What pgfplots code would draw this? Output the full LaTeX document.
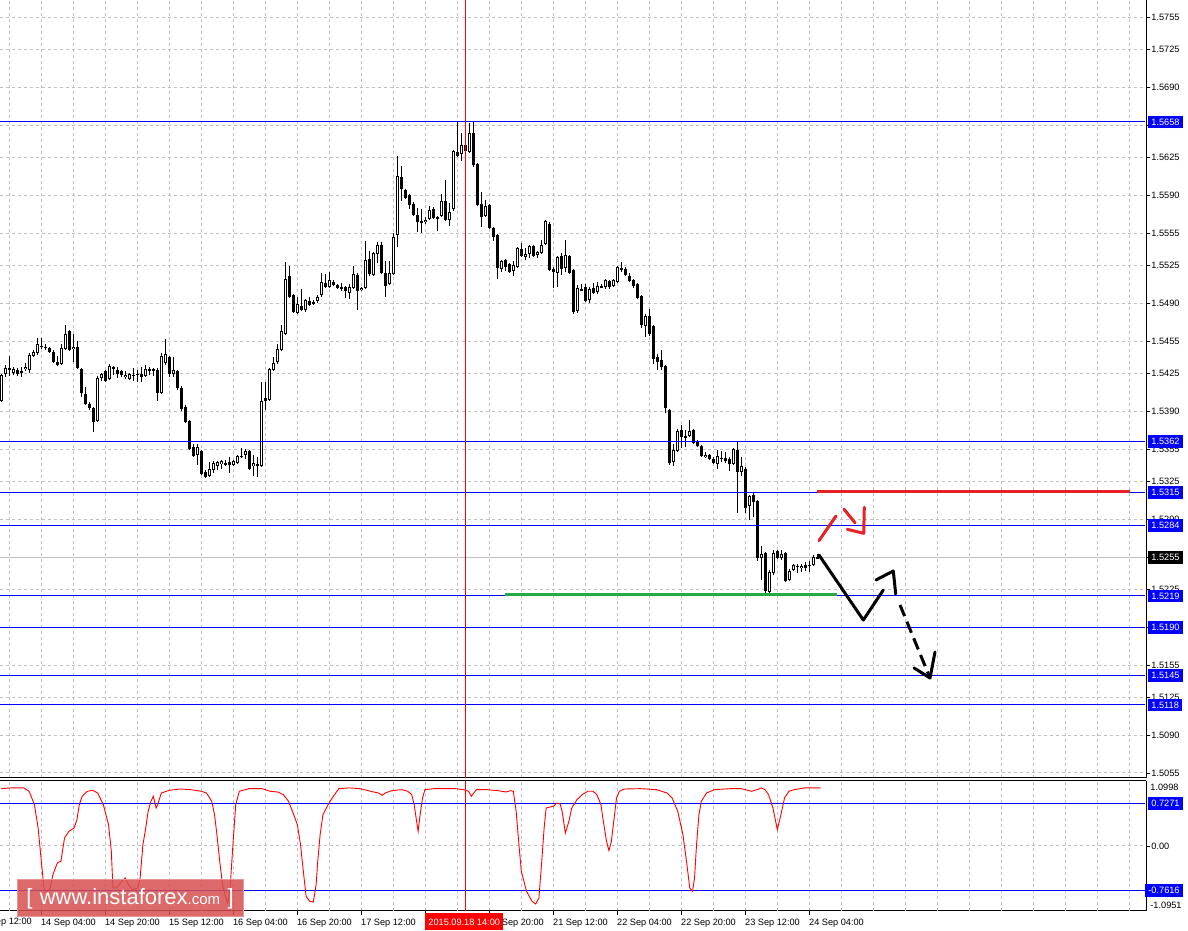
\documentclass[border=0pt]{standalone}
\usepackage{fontspec}
\setmainfont{Liberation Sans}
\usepackage{pgfplots}
\usepackage{pgfplotstable}
\usetikzlibrary{calc}
\pgfplotsset{compat=1.18}
\definecolor{lvl}{RGB}{0,0,255}
\definecolor{gridc}{RGB}{192,192,192}
\definecolor{bidc}{RGB}{192,192,192}
\definecolor{grn}{RGB}{32,170,72}
\definecolor{rdl}{RGB}{232,32,40}
\definecolor{wm}{RGB}{215,80,80}

\pgfplotstableread{
k o h l c
0 1.5400 1.5425 1.5399 1.5424
1 1.5425 1.5433 1.5422 1.5430
2 1.5430 1.5441 1.5423 1.5429
3 1.5426 1.5431 1.5424 1.5429
4 1.5428 1.5430 1.5423 1.5425
5 1.5427 1.5431 1.5422 1.5426
6 1.5429 1.5435 1.5427 1.5431
7 1.5428 1.5444 1.5426 1.5442
8 1.5441 1.5447 1.5440 1.5445
9 1.5444 1.5458 1.5442 1.5452
10 1.5451 1.5458 1.5448 1.5450
11 1.5450 1.5452 1.5447 1.5449
12 1.5449 1.5450 1.5444 1.5445
13 1.5445 1.5447 1.5435 1.5436
14 1.5436 1.5441 1.5432 1.5433
15 1.5434 1.5452 1.5433 1.5449
16 1.5448 1.5470 1.5447 1.5462
17 1.5464 1.5465 1.5446 1.5447
18 1.5448 1.5462 1.5436 1.5450
19 1.5450 1.5455 1.5429 1.5430
20 1.5429 1.5430 1.5403 1.5407
21 1.5406 1.5413 1.5396 1.5397
22 1.5397 1.5399 1.5391 1.5393
23 1.5393 1.5394 1.5371 1.5380
24 1.5381 1.5423 1.5380 1.5421
25 1.5421 1.5426 1.5418 1.5425
26 1.5427 1.5428 1.5417 1.5418
27 1.5420 1.5434 1.5419 1.5432
28 1.5431 1.5432 1.5424 1.5429
29 1.5428 1.5431 1.5421 1.5425
30 1.5427 1.5428 1.5422 1.5424
31 1.5422 1.5427 1.5420 1.5424
32 1.5420 1.5426 1.5419 1.5425
33 1.5424 1.5430 1.5418 1.5423
34 1.5425 1.5428 1.5417 1.5424
35 1.5425 1.5431 1.5417 1.5422
36 1.5423 1.5433 1.5422 1.5429
37 1.5428 1.5431 1.5424 1.5429
38 1.5429 1.5430 1.5423 1.5428
39 1.5428 1.5430 1.5400 1.5407
40 1.5407 1.5444 1.5406 1.5441
41 1.5435 1.5457 1.5433 1.5443
42 1.5440 1.5441 1.5422 1.5425
43 1.5425 1.5440 1.5422 1.5428
44 1.5427 1.5428 1.5410 1.5412
45 1.5412 1.5413 1.5390 1.5392
46 1.5394 1.5396 1.5379 1.5380
47 1.5381 1.5382 1.5354 1.5355
48 1.5357 1.5360 1.5348 1.5349
49 1.5350 1.5360 1.5340 1.5357
50 1.5353 1.5354 1.5331 1.5332
51 1.5334 1.5336 1.5328 1.5329
52 1.5330 1.5343 1.5329 1.5337
53 1.5336 1.5344 1.5333 1.5342
54 1.5339 1.5344 1.5336 1.5343
55 1.5341 1.5345 1.5337 1.5344
56 1.5342 1.5345 1.5339 1.5341
57 1.5343 1.5348 1.5333 1.5340
58 1.5340 1.5345 1.5339 1.5344
59 1.5342 1.5350 1.5341 1.5349
60 1.5349 1.5356 1.5347 1.5348
61 1.5350 1.5355 1.5346 1.5353
62 1.5353 1.5354 1.5336 1.5337
63 1.5339 1.5350 1.5330 1.5342
64 1.5341 1.5348 1.5329 1.5340
65 1.5339 1.5417 1.5338 1.5400
66 1.5402 1.5417 1.5391 1.5400
67 1.5401 1.5430 1.5400 1.5429
68 1.5428 1.5440 1.5427 1.5435
69 1.5436 1.5452 1.5434 1.5448
70 1.5447 1.5470 1.5446 1.5464
71 1.5462 1.5528 1.5461 1.5513
72 1.5515 1.5525 1.5495 1.5496
73 1.5498 1.5499 1.5481 1.5482
74 1.5481 1.5496 1.5480 1.5489
75 1.5488 1.5503 1.5483 1.5484
76 1.5484 1.5494 1.5482 1.5493
77 1.5492 1.5496 1.5488 1.5489
78 1.5491 1.5493 1.5489 1.5490
79 1.5492 1.5498 1.5490 1.5496
80 1.5498 1.5518 1.5496 1.5510
81 1.5509 1.5517 1.5504 1.5505
82 1.5505 1.5519 1.5504 1.5512
83 1.5510 1.5512 1.5506 1.5507
84 1.5507 1.5508 1.5503 1.5504
85 1.5505 1.5509 1.5502 1.5504
86 1.5505 1.5506 1.5495 1.5502
87 1.5500 1.5508 1.5494 1.5505
88 1.5504 1.5525 1.5503 1.5517
89 1.5516 1.5518 1.5484 1.5502
90 1.5502 1.5505 1.5501 1.5504
91 1.5504 1.5548 1.5503 1.5530
92 1.5531 1.5539 1.5515 1.5517
93 1.5516 1.5538 1.5515 1.5537
94 1.5536 1.5547 1.5527 1.5544
95 1.5544 1.5547 1.5517 1.5518
96 1.5518 1.5529 1.5496 1.5506
97 1.5508 1.5529 1.5507 1.5518
98 1.5517 1.5555 1.5516 1.5552
99 1.5553 1.5627 1.5542 1.5608
100 1.5607 1.5617 1.5585 1.5596
101 1.5595 1.5596 1.5587 1.5588
102 1.5590 1.5591 1.5577 1.5581
103 1.5582 1.5584 1.5571 1.5572
104 1.5572 1.5578 1.5556 1.5565
105 1.5566 1.5577 1.5555 1.5565
106 1.5565 1.5570 1.5564 1.5567
107 1.5568 1.5580 1.5567 1.5577
108 1.5577 1.5579 1.5568 1.5569
109 1.5570 1.5571 1.5557 1.5569
110 1.5571 1.5591 1.5570 1.5585
111 1.5585 1.5604 1.5566 1.5567
112 1.5567 1.5583 1.5562 1.5575
113 1.5577 1.5632 1.5576 1.5631
114 1.5630 1.5658 1.5626 1.5627
115 1.5628 1.5648 1.5622 1.5637
116 1.5637 1.5641 1.5629 1.5631
117 1.5630 1.5657 1.5629 1.5648
118 1.5648 1.5658 1.5616 1.5618
119 1.5619 1.5620 1.5580 1.5581
120 1.5582 1.5593 1.5561 1.5570
121 1.5571 1.5586 1.5570 1.5580
122 1.5581 1.5582 1.5559 1.5560
123 1.5560 1.5561 1.5548 1.5552
124 1.5553 1.5554 1.5513 1.5523
125 1.5522 1.5530 1.5519 1.5529
126 1.5530 1.5531 1.5520 1.5524
127 1.5526 1.5527 1.5518 1.5519
128 1.5520 1.5529 1.5515 1.5526
129 1.5524 1.5542 1.5523 1.5541
130 1.5540 1.5546 1.5533 1.5534
131 1.5533 1.5541 1.5530 1.5536
132 1.5536 1.5544 1.5532 1.5543
133 1.5543 1.5544 1.5533 1.5534
134 1.5535 1.5539 1.5532 1.5538
135 1.5537 1.5549 1.5536 1.5544
136 1.5545 1.5567 1.5544 1.5566
137 1.5564 1.5565 1.5520 1.5521
138 1.5522 1.5524 1.5504 1.5519
139 1.5518 1.5534 1.5505 1.5533
140 1.5534 1.5537 1.5516 1.5522
141 1.5523 1.5549 1.5519 1.5535
142 1.5534 1.5535 1.5517 1.5518
143 1.5521 1.5522 1.5480 1.5482
144 1.5483 1.5507 1.5481 1.5504
145 1.5503 1.5508 1.5502 1.5502
146 1.5505 1.5508 1.5491 1.5492
147 1.5493 1.5505 1.5490 1.5503
148 1.5504 1.5509 1.5499 1.5500
149 1.5501 1.5510 1.5499 1.5506
150 1.5506 1.5508 1.5504 1.5505
151 1.5505 1.5513 1.5503 1.5512
152 1.5511 1.5512 1.5503 1.5505
153 1.5506 1.5513 1.5505 1.5512
154 1.5510 1.5525 1.5509 1.5524
155 1.5523 1.5528 1.5519 1.5521
156 1.5522 1.5524 1.5515 1.5516
157 1.5515 1.5518 1.5510 1.5511
158 1.5512 1.5513 1.5504 1.5506
159 1.5508 1.5509 1.5494 1.5495
160 1.5497 1.5498 1.5467 1.5470
161 1.5469 1.5480 1.5459 1.5478
162 1.5478 1.5485 1.5460 1.5462
163 1.5469 1.5470 1.5434 1.5438
164 1.5440 1.5443 1.5428 1.5436
165 1.5438 1.5447 1.5428 1.5431
166 1.5432 1.5433 1.5389 1.5393
167 1.5391 1.5392 1.5340 1.5342
168 1.5343 1.5360 1.5339 1.5354
169 1.5353 1.5374 1.5352 1.5372
170 1.5373 1.5377 1.5356 1.5366
171 1.5367 1.5373 1.5357 1.5366
172 1.5367 1.5382 1.5366 1.5372
173 1.5373 1.5374 1.5360 1.5361
174 1.5363 1.5364 1.5357 1.5358
175 1.5358 1.5359 1.5348 1.5349
176 1.5348 1.5352 1.5347 1.5350
177 1.5350 1.5351 1.5345 1.5346
178 1.5346 1.5348 1.5341 1.5342
179 1.5341 1.5354 1.5337 1.5349
180 1.5347 1.5353 1.5343 1.5346
181 1.5347 1.5352 1.5342 1.5344
182 1.5346 1.5348 1.5335 1.5341
183 1.5341 1.5356 1.5340 1.5355
184 1.5354 1.5363 1.5296 1.5334
185 1.5334 1.5348 1.5330 1.5339
186 1.5337 1.5338 1.5296 1.5301
187 1.5302 1.5313 1.5289 1.5312
188 1.5313 1.5314 1.5292 1.5306
189 1.5307 1.5308 1.5251 1.5254
190 1.5254 1.5265 1.5234 1.5258
191 1.5259 1.5260 1.5222 1.5224
192 1.5223 1.5243 1.5221 1.5241
193 1.5240 1.5262 1.5238 1.5259
194 1.5261 1.5262 1.5253 1.5254
195 1.5254 1.5262 1.5252 1.5258
196 1.5259 1.5260 1.5232 1.5233
197 1.5234 1.5244 1.5233 1.5242
198 1.5243 1.5249 1.5242 1.5248
199 1.5247 1.5249 1.5240 1.5246
200 1.5245 1.5249 1.5241 1.5247
201 1.5248 1.5250 1.5242 1.5245
202 1.5248 1.5251 1.5241 1.5247
203 1.5248 1.5257 1.5247 1.5255
204 1.5254 1.5258 1.5253 1.5255
}\candles

\pgfplotstableread{
k v
0 0.975
2.3 0.987
5.6 0.987
6.95 0.930
8.27 0.703
9.2 0.306
10.0 -0.26
10.65 -0.714
11.3 -0.799
12.2 -0.714
12.9 -0.487
14.0 -0.289
14.9 -0.26
15.8 0.136
16.9 0.25
18.2 0.306
18.9 0.448
19.5 0.703
20.2 0.845
21.5 0.930
22.8 0.947
24.1 0.901
25.5 0.703
26.8 0.363
27.5 -0.091
27.9 -0.714
28.8 -0.714
30.1 -0.601
31.0 -0.544
31.8 -0.658
32.8 -0.743
34.1 -0.714
34.7 -0.544
35.4 0.023
36.1 0.306
36.7 0.590
37.4 0.760
38.0 0.845
38.7 0.646
39.1 0.703
40.0 0.901
42.0 0.947
44.7 0.969
47.3 0.958
50.0 0.930
51.3 0.901
52.6 0.760
53.3 0.533
53.9 0.193
54.6 -0.26
55.3 -0.658
55.9 -0.828
56.6 -0.969
57.2 -0.714
57.9 0.023
58.6 0.703
59.5 0.930
61.9 0.975
65.2 0.975
67.2 0.930
69.1 0.918
70.5 0.873
71.8 0.760
73.1 0.533
74.0 0.363
74.8 0.023
75.5 -0.43
76.2 -0.856
77.1 -0.941
78.0 -0.952
78.7 -0.658
79.1 -0.26
79.7 0.193
80.4 0.533
81.7 0.703
83.0 0.845
84.4 0.975
87.0 0.987
89.7 0.975
92.3 0.930
94.3 0.901
95.2 0.862
96.0 0.901
97.6 0.941
100.2 0.958
101.6 0.930
102.6 0.873
103.2 0.703
103.7 0.476
104.2 0.25
104.7 0.533
105.3 0.816
105.9 0.958
108.2 0.975
113.5 0.975
115.5 0.958
116.8 0.930
117.5 0.845
118.1 0.901
118.8 0.958
121.4 0.958
124.1 0.941
126.1 0.918
127.4 0.941
128.0 0.930
128.7 0.590
129.4 0.023
130.0 -0.43
131.3 -0.771
132.7 -0.941
133.6 -0.986
134.4 -0.884
135.1 -0.26
135.7 0.306
136.2 0.646
136.9 0.658
138.0 0.675
138.9 0.731
139.7 0.714
140.2 0.590
141.0 0.221
141.9 0.420
142.6 0.646
143.9 0.788
145.2 0.873
146.6 0.930
147.9 0.930
148.9 0.873
149.9 0.703
150.5 0.420
151.3 0.079
151.9 -0.079
152.5 0.079
153.2 0.476
153.8 0.816
154.5 0.930
155.8 0.969
159.8 0.975
163.8 0.958
166.4 0.901
167.7 0.816
169.1 0.590
170.4 0.193
171.4 -0.317
172.1 -0.714
172.8 -0.771
173.3 -0.544
173.8 0.023
174.4 0.533
175.0 0.760
176.3 0.901
178.3 0.958
182.3 0.975
184.9 0.975
187.6 0.930
188.9 0.958
190.0 0.987
190.9 0.958
191.8 0.873
192.9 0.646
194.0 0.278
194.9 0.533
195.8 0.816
196.9 0.930
198.2 0.958
200.8 0.987
204.8 0.987
}\fisher

\begin{document}
\begin{tikzpicture}[x=0.5pt,y=0.5pt]
\useasboundingbox (0,0) rectangle (1188,931);
\fill[white] (0,0) rectangle (1188,931);
\pgfplotsset{
  common/.style={
    scale only axis, width=573pt,
    xmin=-0.3325, xmax=286.1675,
    axis x line*=bottom, axis y line*=right,
    axis line style={-, line width=0.5pt, black},
    tick align=outside, major tick length=2pt,
    tick style={black, line width=0.4pt},
    major grid style={gridc, dash pattern=on 1.5pt off 1.5pt, line width=0.5pt},
    tick label style={font=\fontsize{4.6}{5.5}\selectfont},
    yticklabel style={anchor=west, inner sep=0pt, xshift=0.5pt},
  },
  candle/.style={draw=none, mark=none, forget plot,
    error bars/y dir=both, error bars/y explicit, error bars/error mark=none,
    error bars/error bar style={draw=#1, solid}},
}
% ---------------- main price panel (frame, grid)
\begin{axis}[common, name=mainax,
  at={(0pt,76.5pt)}, anchor=south west, height=389pt,
  ymin=1.505037, ymax=1.5771,
  xtick={2,10,...,282}, xticklabels={}, xtick style={draw=none},
  ytick={1.5055,1.5090,1.5125,1.5155,1.5190,1.5225,1.5255,1.5290,1.5325,1.5355,1.5390,1.5425,1.5455,1.5490,1.5525,1.5555,1.5590,1.5625,1.5655,1.5690,1.5725,1.5755},
  yticklabels={1.5055,1.5090,1.5125,1.5155,1.5190,1.5225,1.5255,1.5290,1.5325,1.5355,1.5390,1.5425,1.5455,1.5490,1.5525,1.5555,1.5590,1.5625,1.5655,1.5690,1.5725,1.5755},
  grid=major,
]
\addplot[bidc, line width=0.5pt, forget plot] coordinates {(-0.3,1.5255) (286,1.5255)};
\end{axis}
% ---------------- candles and drawings (same geometry)
\begin{axis}[name=candax,
  at={(0pt,76.5pt)}, anchor=south west,
  scale only axis, width=573pt, height=389pt,
  xmin=-0.3325, xmax=286.1675, ymin=1.505037, ymax=1.5771,
  hide axis,
]
\addplot[candle=black, error bars/error bar style={line width=0.5pt}]
  table[x=k, y expr={(\thisrow{h}+\thisrow{l})/2}, y error expr={(\thisrow{h}-\thisrow{l})/2}] {\candles};
\addplot[candle=black, error bars/error bar style={line width=1.5pt}]
  table[x=k, y expr={(\thisrow{o}+\thisrow{c})/2}, y error expr={max(abs(\thisrow{o}-\thisrow{c})/2,0.0000463)}] {\candles};
\addplot[candle=white, error bars/error bar style={line width=0.5pt}]
  table[x=k, y expr={(\thisrow{o}+\thisrow{c})/2}, y error expr={max((\thisrow{c}-\thisrow{o})/2-0.0000926,0)}] {\candles};
\addplot[lvl, line width=0.5pt, forget plot] coordinates {(-0.3,1.5658) (286,1.5658)};
\addplot[lvl, line width=0.5pt, forget plot] coordinates {(-0.3,1.5362) (286,1.5362)};
\addplot[lvl, line width=0.5pt, forget plot] coordinates {(-0.3,1.5315) (286,1.5315)};
\addplot[lvl, line width=0.5pt, forget plot] coordinates {(-0.3,1.5284) (286,1.5284)};
\addplot[lvl, line width=0.5pt, forget plot] coordinates {(-0.3,1.5219) (286,1.5219)};
\addplot[lvl, line width=0.5pt, forget plot] coordinates {(-0.3,1.5190) (286,1.5190)};
\addplot[lvl, line width=0.5pt, forget plot] coordinates {(-0.3,1.5145) (286,1.5145)};
\addplot[lvl, line width=0.5pt, forget plot] coordinates {(-0.3,1.5118) (286,1.5118)};
\addplot[grn, line width=1.5pt, forget plot] coordinates {(125.9,1.5220) (208.9,1.5220)};
\addplot[rdl, line width=1.5pt, forget plot] coordinates {(203.9,1.5316) (282.2,1.5316)};
\addplot[rdl, line width=1.5pt, line cap=round, forget plot] coordinates {(204.42,1.52702) (208.67,1.52931)};
\addplot[rdl, line width=1.5pt, line cap=round, forget plot] coordinates {(210.67,1.52993) (213.42,1.52868)};
\addplot[rdl, line width=1.5pt, line cap=round, line join=round, forget plot] coordinates {(211.49,1.52807) (215.6,1.52770) (215.74,1.53011)};
\addplot[black, line width=1.5pt, line cap=round, line join=round, forget plot] coordinates {(204.42,1.52569) (215.49,1.51967) (220.49,1.52245)};
\addplot[black, line width=1.5pt, line cap=round, line join=round, forget plot] coordinates {(218.67,1.52338) (222.99,1.52421) (223.59,1.52208)};
\addplot[black, line width=1.5pt, dash pattern=on 6pt off 3pt, forget plot] coordinates {(224.67,1.52106) (232.17,1.51430)};
\addplot[black, line width=1.5pt, line cap=round, line join=round, forget plot] coordinates {(228.17,1.51523) (232.17,1.51430) (233.42,1.51671)};
\addplot[red, line width=0.5pt, forget plot] coordinates {(116,1.50504) (116,1.5771)};
\end{axis}
% ---------------- indicator panel
\begin{axis}[common, name=indax,
  at={(0pt,10pt)}, anchor=south west, height=65pt,
  ymin=-1.105, ymax=1.105,
  xtick={10,26,...,202},
  xticklabels={14 Sep 04:00,14 Sep 20:00,15 Sep 12:00,16 Sep 04:00,16 Sep 20:00,17 Sep 12:00,18 Sep 04:00,18 Sep 20:00,21 Sep 12:00,22 Sep 04:00,22 Sep 20:00,23 Sep 12:00,24 Sep 04:00},
  xticklabel style={anchor=north west, inner sep=0pt, yshift=-1.8pt, xshift=-0.3pt},
  extra x ticks={2,18,...,274,218,234,250,266,282},
  extra x tick labels={},
  extra x tick style={grid=major, major tick length=0pt},
  ytick={0}, yticklabels={0.00},
  grid=major,
]
\addplot[lvl, line width=0.5pt, forget plot] coordinates {(-0.3,0.7271) (286,0.7271)};
\addplot[lvl, line width=0.5pt, forget plot] coordinates {(-0.3,-0.7616) (286,-0.7616)};
\addplot[red, line width=0.45pt, forget plot] table[x=k, y=v] {\fisher};
\addplot[red, line width=0.5pt, forget plot] coordinates {(116,-1.105) (116,1.105)};
\end{axis}
\draw[black, line width=0.5pt] (indax.north west) -- (indax.north east);
% label boxes
\tikzset{bl/.style={fill=lvl, text=white, font=\fontsize{4.6}{5.5}\selectfont, inner xsep=1.5pt, inner ysep=0pt, minimum height=6.4pt, anchor=west}}
\foreach \v/\t in {1.5658/1.5658,1.5362/1.5362,1.5315/1.5315,1.5284/1.5284,1.5219/1.5219,1.5190/1.5190,1.5145/1.5145,1.5118/1.5118}
  \node[bl] at ($(mainax.south east)!{(\v-1.505037)/0.072063}!(mainax.north east)+(2,0)$) {\t};
\node[bl, fill=black] at ($(mainax.south east)!{(1.5255-1.505037)/0.072063}!(mainax.north east)+(2,0)$) {1.5255};
\node[bl] at ($(indax.south east)!{(0.7271+1.105)/2.21}!(indax.north east)+(2,0)$) {0.7271};
\node[bl] at ($(indax.south east)!{(-0.7616+1.105)/2.21}!(indax.north east)+(-1,0)$) {-0.7616};
\node[anchor=west, inner sep=0pt, font=\fontsize{4.6}{5.5}\selectfont] at ($(indax.north east)+(4,-6)$) {1.0998};
\node[anchor=west, inner sep=0pt, font=\fontsize{4.6}{5.5}\selectfont] at ($(indax.south east)+(4,6)$) {-1.0951};
\node[anchor=north west, inner sep=0pt, font=\fontsize{4.6}{5.5}\selectfont] at ($(indax.south west)+(-22.67,-6.5)$) {11 Sep 12:00};
\node[anchor=north west, fill=red, text=white, inner xsep=1.5pt, inner ysep=0pt, minimum height=8.5pt, font=\fontsize{4.6}{5.5}\selectfont] at ($(indax.south west)+(425,-2)$) {2015.09.18 14:00};
\node[fill=wm, fill opacity=0.85, text opacity=1, draw=wm!60!white, line width=0.5pt, text=white, minimum width=113pt, minimum height=18.5pt, inner sep=0pt] at ($(indax.south west)+(130,12.5)$) {\fontsize{11}{11}\selectfont [\,\,www.instaforex{\fontsize{7.5}{7.5}\selectfont .com}\,\,]};
\end{tikzpicture}
\end{document}
